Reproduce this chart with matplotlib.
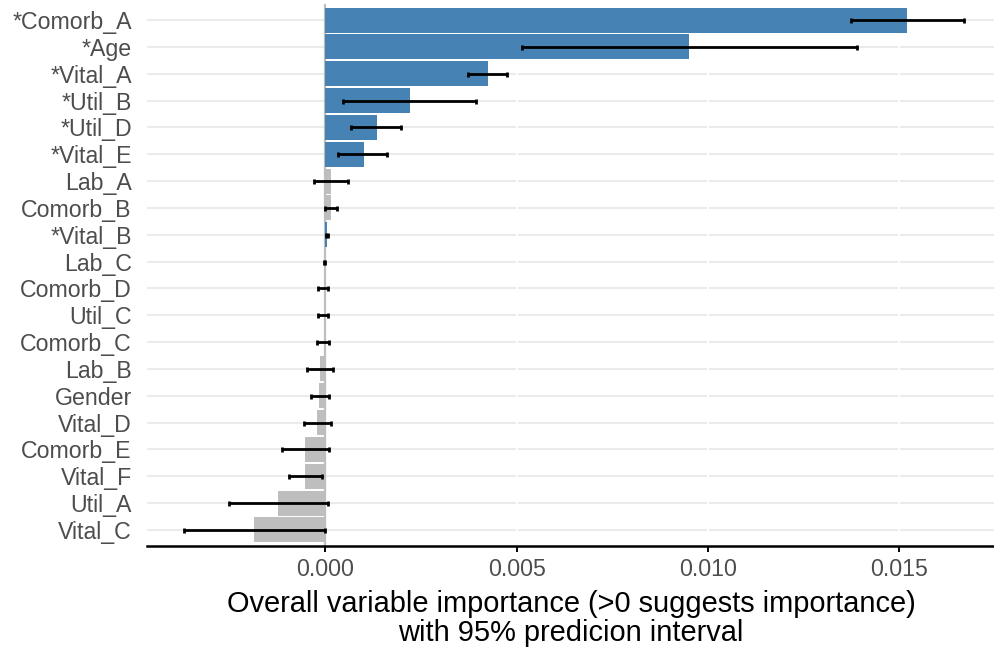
import matplotlib
matplotlib.use("Agg")
import matplotlib.pyplot as plt
import numpy as np

# Variables, top to bottom as in the chart
labels = ["*Comorb_A", "*Age", "*Vital_A", "*Util_B", "*Util_D", "*Vital_E",
          "Lab_A", "Comorb_B", "*Vital_B", "Lab_C", "Comorb_D", "Util_C",
          "Comorb_C", "Lab_B", "Gender", "Vital_D", "Comorb_E", "Vital_F",
          "Util_A", "Vital_C"]
importance = [0.01521, 0.00950, 0.00424, 0.00220, 0.00134, 0.00100,
              0.00016, 0.00016, 0.00004, -0.00001, -0.00003, -0.00003,
              -0.00004, -0.00013, -0.00016, -0.00021, -0.00052, -0.00052,
              -0.00123, -0.00186]
lower = [0.01374, 0.00513, 0.00374, 0.00045, 0.00068, 0.00034,
         -0.00029, -0.00002, 0.00002, -0.00004, -0.00018, -0.00018,
         -0.00021, -0.00047, -0.00037, -0.00057, -0.00113, -0.00096,
         -0.00251, -0.00369]
upper = [0.01668, 0.01390, 0.00474, 0.00395, 0.00197, 0.00160,
         0.00058, 0.00031, 0.00006, 0.00000, 0.00007, 0.00007,
         0.00010, 0.00020, 0.00010, 0.00015, 0.00010, -0.00008,
         0.00006, -0.00002]
xticks = [0.000, 0.005, 0.010, 0.015]

plt.rcParams['font.family'] = ['Liberation Sans', 'DejaVu Sans']

n = len(labels)
ypos = np.arange(n)[::-1]
imp = np.array(importance)
err = np.array([imp - np.array(lower), np.array(upper) - imp])
colores = ['#4682B4' if l.startswith('*') else '#BEBEBE' for l in labels]

fig = plt.figure(figsize=(9.95, 6.51), dpi=100)
ax = fig.add_axes([147 / 995, 1 - 546 / 651, 1 - 147 / 995, 542 / 651])

# rejilla
for y in ypos:
    ax.axhline(y, color='#EBEBEB', lw=1.5, zorder=0)
for t in xticks:
    ax.axvline(t, color='white', lw=1.5, zorder=0.5)
ax.axvline(0, color='#BEBEBE', lw=1.6, zorder=0.8)

ax.barh(ypos, imp, height=0.93, color=colores, zorder=1)
ax.errorbar(imp, ypos, xerr=err, fmt='none', ecolor='black', elinewidth=2,
            capsize=1.8, capthick=2, zorder=2)

ax.set_xlim(-0.00466, 0.0175)
ax.set_ylim(-0.6, n - 0.4)
ax.set_yticks(ypos)
ax.set_yticklabels(labels)
ax.set_xticks(xticks)
ax.set_xticklabels(['%.3f' % t for t in xticks])
ax.tick_params(axis='y', length=0, pad=11, labelsize=16.7, labelcolor='#4D4D4D')
ax.tick_params(axis='x', length=4, width=1.4, pad=5, labelsize=16.7,
               labelcolor='#4D4D4D', color='black')
for s in ['top', 'right', 'left']:
    ax.spines[s].set_visible(False)
ax.spines['bottom'].set_linewidth(1.8)
ax.spines['bottom'].set_color('black')
ax.set_xlabel('Overall variable importance (>0 suggests importance)\n'
              'with 95% predicion interval', fontsize=20.9, labelpad=6,
              linespacing=1.05)

fig.savefig('out.png', dpi=100)
